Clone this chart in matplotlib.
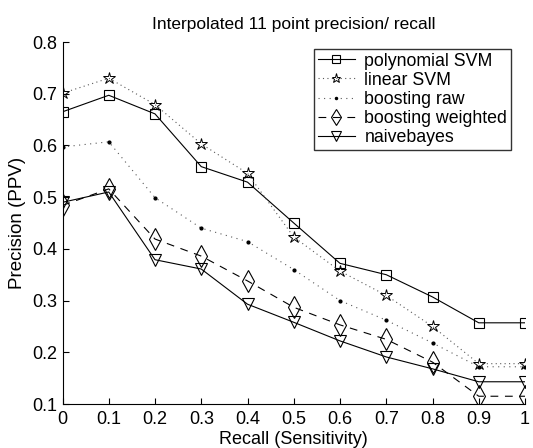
import matplotlib
matplotlib.use('Agg')
import matplotlib.pyplot as plt
import numpy as np

plt.rcParams['font.family'] = ['Liberation Sans', 'DejaVu Sans']

# recall levels and precision per classifier
recall = [0, 0.1, 0.2, 0.3, 0.4, 0.5, 0.6, 0.7, 0.8, 0.9, 1.0]
poly_svm = [0.665, 0.697, 0.661, 0.559, 0.529, 0.450, 0.372, 0.350, 0.307, 0.257, 0.257]
linear_svm = [0.701, 0.730, 0.679, 0.603, 0.546, 0.423, 0.357, 0.310, 0.250, 0.178, 0.178]
boost_raw = [0.597, 0.607, 0.499, 0.440, 0.414, 0.360, 0.300, 0.262, 0.218, 0.172, 0.172]
boost_weighted = [0.484, 0.516, 0.419, 0.386, 0.338, 0.287, 0.253, 0.225, 0.181, 0.115, 0.115]
naivebayes = [0.490, 0.510, 0.379, 0.361, 0.293, 0.258, 0.222, 0.191, 0.168, 0.143, 0.143]

xticks = [0, 0.1, 0.2, 0.3, 0.4, 0.5, 0.6, 0.7, 0.8, 0.9, 1]
xticklabels = ['0', '0.1', '0.2', '0.3', '0.4', '0.5', '0.6', '0.7', '0.8', '0.9', '1']
yticks = [0.1, 0.2, 0.3, 0.4, 0.5, 0.6, 0.7, 0.8]

W, H = 533, 448
fig = plt.figure(figsize=(W/100, H/100), dpi=100)
# axes box in pixels: x 62.5..525, y 42..404
ax = fig.add_axes([62.5/W, 1 - 404/H, 462.5/W, 362/H])

lw = 0.8
ax.plot(recall, poly_svm, '-', color='k', lw=lw, marker='s', ms=7, mfc='none', mec='k', mew=0.8, label='polynomial SVM')
ax.plot(recall, linear_svm, ':', color='0.35', lw=lw, dashes=(1, 3), marker='*', ms=9, mfc='none', mec='k', mew=0.7, label='linear SVM')
ax.plot(recall, boost_raw, ':', color='0.35', lw=lw, dashes=(1, 4), marker='.', ms=4, mfc='k', mec='k', label='boosting raw')
ax.plot(recall, boost_weighted, '--', color='k', lw=lw, dashes=(7, 6), marker='d', ms=11, mfc='none', mec='k', mew=0.8, label='boosting weighted')
ax.plot(recall, naivebayes, '-', color='k', lw=lw, marker='v', ms=9, mfc='none', mec='k', mew=0.8, label='naivebayes')

ax.set_xlim(0, 1)
ax.set_ylim(0.1, 0.8)
ax.set_xticks(xticks)
ax.set_xticklabels(xticklabels)
ax.set_yticks(yticks)
ax.tick_params(direction='in', labelsize=13, length=4, width=0.8)
ax.tick_params(axis='x', pad=5)
ax.tick_params(axis='y', pad=4)
for s in ['top', 'right']:
    ax.spines[s].set_visible(False)
for s in ['left', 'bottom']:
    ax.spines[s].set_linewidth(0.8)

ax.set_title('Interpolated 11 point precision/ recall', fontsize=12.5, pad=9.5)
ax.set_xlabel('Recall (Sensitivity)', fontsize=13, labelpad=2.5)
ax.set_ylabel('Precision (PPV)', fontsize=13.5, labelpad=4)

leg = ax.legend(loc='upper left', bbox_to_anchor=((314 - 62.5)/462.5, 1 - (49 - 42)/362), fontsize=12.8,
                frameon=True, fancybox=False, edgecolor='k', handlelength=2.1,
                borderpad=0.2, labelspacing=0.12, handletextpad=0.53, borderaxespad=0,
                markerscale=0.75)
leg.get_frame().set_linewidth(1.0)

fig.savefig('out.png', dpi=100)
